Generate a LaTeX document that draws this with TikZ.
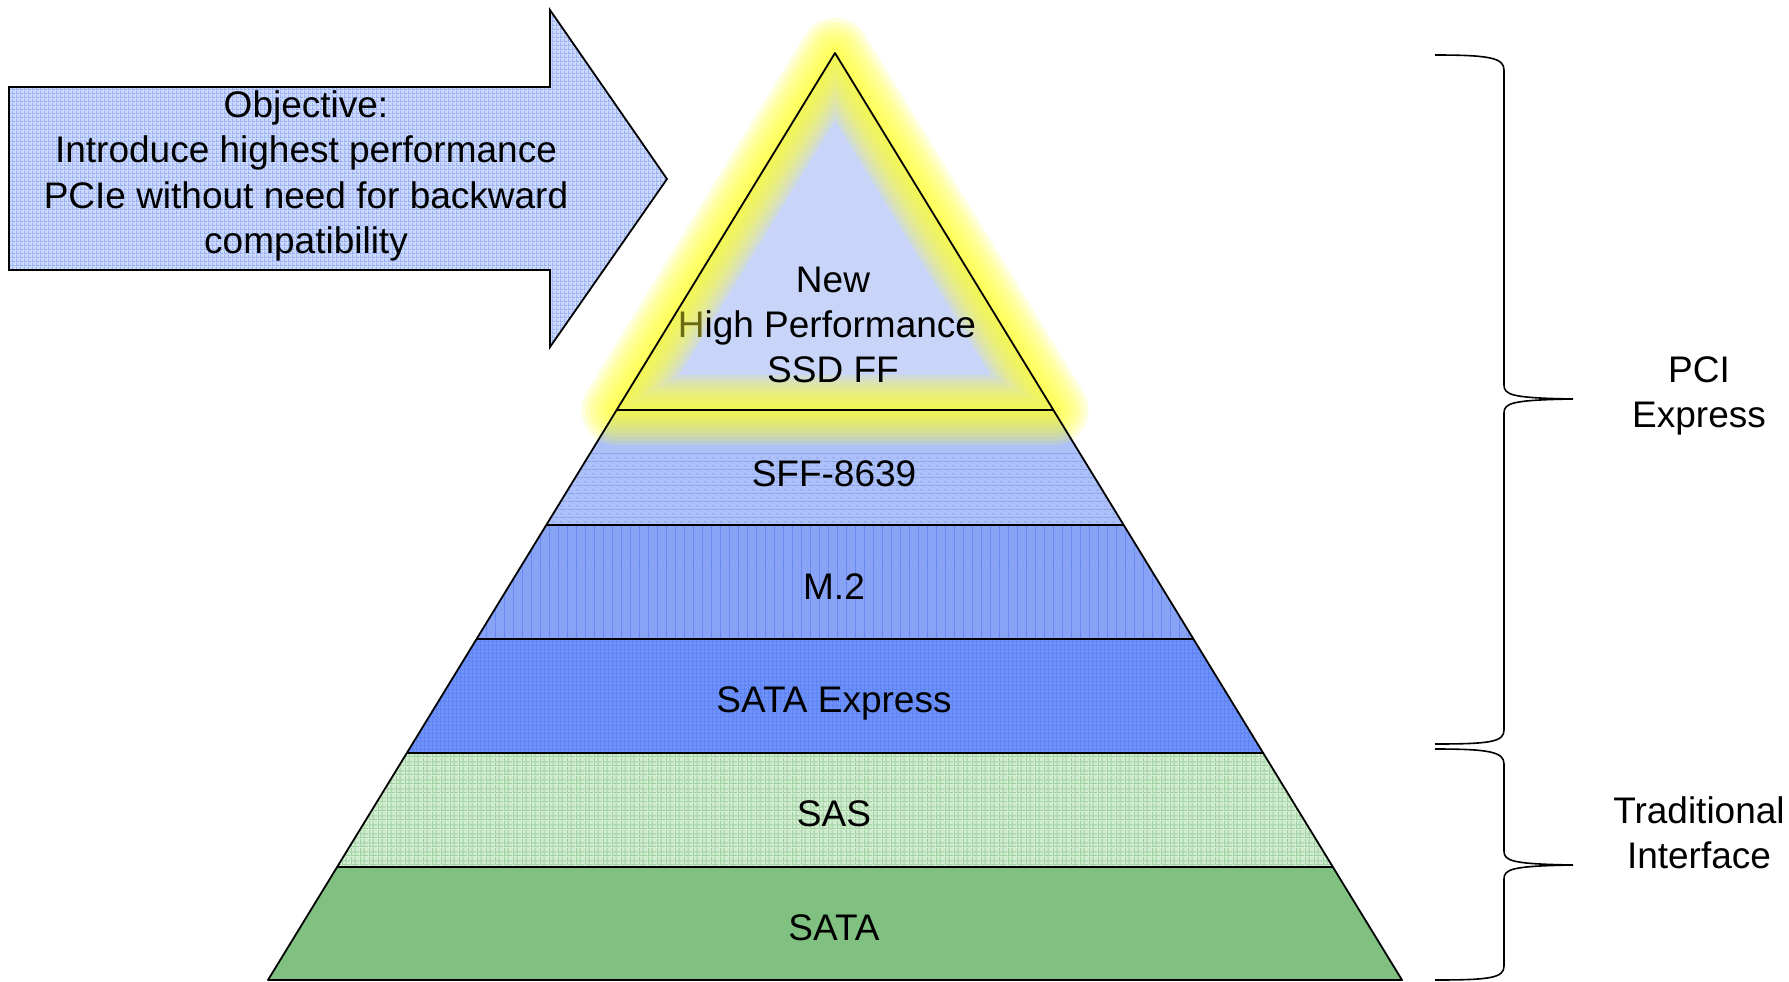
\documentclass[tikz,border=0pt]{standalone}
\usepackage{fontspec}
\setmainfont{Liberation Sans}
\usetikzlibrary{patterns}

\pgfdeclarepatternformonly{pgrid}{\pgfpointorigin}{\pgfpoint{4pt}{4pt}}{\pgfpoint{4pt}{4pt}}{%
  \pgfsetlinewidth{1pt}%
  \pgfpathmoveto{\pgfpoint{0pt}{0.5pt}}\pgfpathlineto{\pgfpoint{4pt}{0.5pt}}%
  \pgfpathmoveto{\pgfpoint{0.5pt}{0pt}}\pgfpathlineto{\pgfpoint{0.5pt}{4pt}}%
  \pgfusepath{stroke}}
\pgfdeclarepatternformonly{phlines}{\pgfpointorigin}{\pgfpoint{8pt}{8pt}}{\pgfpoint{8pt}{8pt}}{%
  \pgfsetlinewidth{1pt}%
  \pgfpathmoveto{\pgfpoint{0pt}{0.5pt}}\pgfpathlineto{\pgfpoint{8pt}{0.5pt}}%
  \pgfpathmoveto{\pgfpoint{0pt}{4.5pt}}\pgfpathlineto{\pgfpoint{3pt}{4.5pt}}%
  \pgfusepath{stroke}}
\pgfdeclarepatternformonly{pvlines}{\pgfpointorigin}{\pgfpoint{9pt}{9pt}}{\pgfpoint{9pt}{9pt}}{%
  \pgfsetlinewidth{1pt}%
  \pgfpathmoveto{\pgfpoint{0.5pt}{0pt}}\pgfpathlineto{\pgfpoint{0.5pt}{9pt}}%
  \pgfusepath{stroke}}
\pgfdeclarepatternformonly{psas}{\pgfpointorigin}{\pgfpoint{9pt}{9pt}}{\pgfpoint{9pt}{9pt}}{%
  \pgfsetlinewidth{1pt}%
  \pgfpathmoveto{\pgfpoint{0pt}{0.5pt}}\pgfpathlineto{\pgfpoint{9pt}{0.5pt}}%
  \pgfpathmoveto{\pgfpoint{0pt}{4.5pt}}\pgfpathlineto{\pgfpoint{9pt}{4.5pt}}%
  \pgfpathmoveto{\pgfpoint{0.5pt}{0pt}}\pgfpathlineto{\pgfpoint{0.5pt}{9pt}}%
  \pgfpathmoveto{\pgfpoint{4.5pt}{0pt}}\pgfpathlineto{\pgfpoint{4.5pt}{9pt}}%
  \pgfusepath{stroke}}

\definecolor{arrowfill}{HTML}{CDD9FB}
\definecolor{arrowgrid}{HTML}{97B0F5}
\definecolor{trifill}{HTML}{C9D5F8}
\definecolor{sffbase}{HTML}{ADC1F8}
\definecolor{sffline}{HTML}{8AA5F2}
\definecolor{mtwobase}{HTML}{88A3F6}
\definecolor{mtwoline}{HTML}{6588F2}
\definecolor{sataxbase}{HTML}{6E92F8}
\definecolor{sataxgrid}{HTML}{5A80F4}
\definecolor{sasbase}{HTML}{D2ECD2}
\definecolor{sasline}{HTML}{A0D2A0}
\definecolor{satafill}{HTML}{80C182}
\definecolor{glowc}{HTML}{FFFF38}
\definecolor{tintH}{HTML}{6A6A12}

\tikzset{
  lbl/.style={font=\fontsize{37}{45.3}\selectfont, inner sep=0pt, align=center, text=black},
  outline/.style={draw=black, line width=1.8pt, line join=round},
  bracestyle/.style={draw=black, line width=1.6pt},
  glowstroke/.style={draw=glowc, opacity=0.17, line join=round}
}

\begin{document}
\begin{tikzpicture}[x=1pt, y=-1pt]
\useasboundingbox (0,0) rectangle (1789,982);

% pyramid coordinates
\coordinate (L0) at (835,53);
\coordinate (L1) at (616.6,410);  \coordinate (R1) at (1053.4,410);
\coordinate (L2) at (546.3,525);  \coordinate (R2) at (1123.7,525);
\coordinate (L3) at (476.5,639);  \coordinate (R3) at (1193.5,639);
\coordinate (L4) at (406.8,753);  \coordinate (R4) at (1263.2,753);
\coordinate (L5) at (337.1,867);  \coordinate (R5) at (1332.9,867);
\coordinate (L6) at (268,980);    \coordinate (R6) at (1402,980);

% layer fills
\fill[sffbase] (L1) -- (R1) -- (R2) -- (L2) -- cycle;
\begin{scope}
  \clip (0,452) rectangle (1789,525);
  \fill[pattern=phlines, pattern color=sffline] (L1) -- (R1) -- (R2) -- (L2) -- cycle;
\end{scope}
\fill[mtwobase] (L2) -- (R2) -- (R3) -- (L3) -- cycle;
\fill[pattern=pvlines, pattern color=mtwoline] (L2) -- (R2) -- (R3) -- (L3) -- cycle;
\fill[sataxbase] (L3) -- (R3) -- (R4) -- (L4) -- cycle;
\fill[pattern=pgrid, pattern color=sataxgrid] (L3) -- (R3) -- (R4) -- (L4) -- cycle;
\fill[sasbase] (L4) -- (R4) -- (R5) -- (L5) -- cycle;
\fill[pattern=psas, pattern color=sasline] (L4) -- (R4) -- (R5) -- (L5) -- cycle;
\fill[satafill] (L5) -- (R5) -- (R6) -- (L6) -- cycle;

% top triangle
\fill[trifill] (L0) -- (L1) -- (R1) -- cycle;

% glow
\foreach \w in {70,62,54,46,38,31,24,17,10}{
  \path[glowstroke, line width=\w pt] (L0) -- (L1) -- (R1) -- cycle;
}

\node[lbl] (newff) at (833,325) {New\\\textcolor{tintH}{H}igh Performance\kern12pt\mbox{}\\SSD FF};

% outlines
\path[outline] (L0) -- (L6) -- (R6) -- cycle;
\path[outline] (L1) -- (R1);
\path[outline] (L2) -- (R2);
\path[outline] (L3) -- (R3);
\path[outline] (L4) -- (R4);
\path[outline] (L5) -- (R5);

% layer labels
\node[lbl, anchor=base] (sff)   at (834,486) {SFF-8639};
\node[lbl, anchor=base] (mtwo)  at (834,599) {M.2};
\node[lbl, anchor=base] (satax) at (834,712) {SATA Express};
\node[lbl, anchor=base] (sas)   at (834,826) {SAS};
\node[lbl, anchor=base] (sata)  at (834,940) {SATA};

% objective arrow
\coordinate (A1) at (9,87);    \coordinate (A2) at (550,87);
\coordinate (A3) at (550,10);  \coordinate (A4) at (667,179);
\coordinate (A5) at (550,347); \coordinate (A6) at (550,270);
\coordinate (A7) at (9,270);
\path[outline, line join=miter, preaction={fill=arrowfill}, pattern=pgrid, pattern color=arrowgrid]
  (A1) -- (A2) -- (A3) -- (A4) -- (A5) -- (A6) -- (A7) -- cycle;
\node[lbl] (obj) at (306,176) {Objective:\\Introduce highest performance\\PCIe without need for backward\\compatibility};

% braces
\coordinate (UB1) at (1435,55);  \coordinate (UT) at (1573,399); \coordinate (UB2) at (1435,744);
\coordinate (LB1) at (1435,749); \coordinate (LT) at (1573,865); \coordinate (LB2) at (1435,980);
\path[bracestyle] (UB1) .. controls (1490,55) and (1504,58) .. (1504,70)
  -- (1504,385) .. controls (1504,395) and (1512,398) .. (UT)
  .. controls (1512,400) and (1504,403) .. (1504,413)
  -- (1504,730) .. controls (1504,742) and (1490,744) .. (UB2);
\path[bracestyle] (LB1) .. controls (1490,749) and (1504,752) .. (1504,764)
  -- (1504,851) .. controls (1504,861) and (1512,864) .. (LT)
  .. controls (1512,866) and (1504,869) .. (1504,879)
  -- (1504,966) .. controls (1504,978) and (1490,980) .. (LB2);

\node[lbl] (pcie) at (1699,396) {PCI\\Express};
\node[lbl] (trad) at (1699,833) {Traditional\\Interface};
\end{tikzpicture}
\end{document}
